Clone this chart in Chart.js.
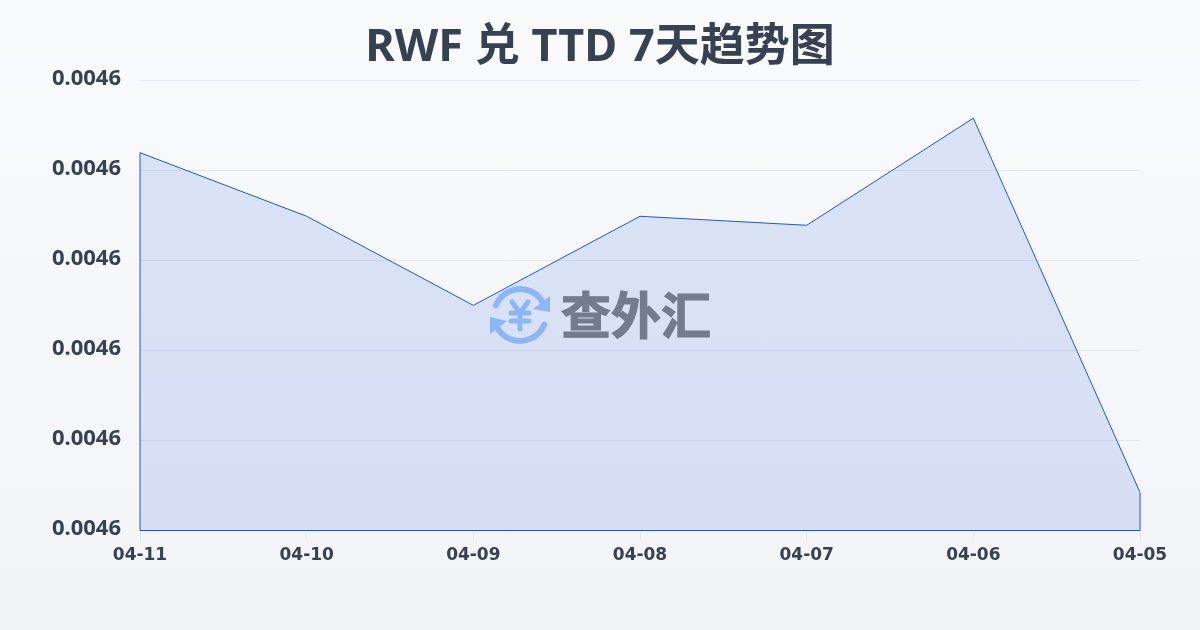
<!DOCTYPE html>
<html><head><meta charset="utf-8">
<style>html,body{margin:0;padding:0;background:#f8fafc}
#w{width:1200px;height:630px;background:linear-gradient(180deg,#f8fafc 0%,#f2f4f7 100%)}</style>
<script src="https://cdn.jsdelivr.net/npm/chart.js@4/dist/chart.umd.min.js"></script>
</head><body><div id="w"><canvas id="c" width="1200" height="630"></canvas></div>
<script>
const titleText = 'RWF 兑 TTD 7天趋势图';
const categories = ['04-11','04-10','04-09','04-08','04-07','04-06','04-05'];
const rates = [0.00462195,0.00461489,0.004605,0.00461489,0.00461389,0.00462578,0.00458422];
const yMin = 0.00458, yMax = 0.00463, yStep = 0.00001;
const watermarkText = '查外汇';
const FONT = '"Noto Sans","Noto Sans CJK SC",sans-serif';
const LINE = '#2457c5';

const outline = {
  id:'outline',
  afterDatasetsDraw(ch){
    const {ctx,scales:{x,y}} = ch;
    const x0=x.getPixelForValue(0), x1=x.getPixelForValue(categories.length-1);
    const yb=y.getPixelForValue(yMin);
    ctx.save();ctx.strokeStyle=LINE;ctx.lineWidth=1;ctx.beginPath();
    ctx.moveTo(x0,y.getPixelForValue(rates[0]));ctx.lineTo(x0,yb);ctx.lineTo(x1,yb);
    ctx.lineTo(x1,y.getPixelForValue(rates[rates.length-1]));ctx.stroke();ctx.restore();
  }
};
const watermark = {
  id:'watermark',
  afterDraw(ch){
    const c=ch.ctx, cx=520, cy=315, r=26;
    c.save();
    c.strokeStyle='#8db6f7';c.fillStyle='#8db6f7';c.lineWidth=6;c.lineCap='round';
    c.beginPath();c.arc(cx,cy,r,Math.PI*1.12,Math.PI*1.83);c.stroke();
    c.beginPath();c.arc(cx,cy,r,Math.PI*0.12,Math.PI*0.83);c.stroke();
    c.beginPath();c.moveTo(550,296);c.lineTo(550,312);c.lineTo(533,309);c.closePath();c.fill();
    c.beginPath();c.moveTo(490,334);c.lineTo(490,317);c.lineTo(507,321);c.closePath();c.fill();
    c.lineWidth=5;c.lineCap='round';c.beginPath();
    c.moveTo(512,302);c.lineTo(520,313);c.lineTo(528,302);
    c.moveTo(520,313);c.lineTo(520,329);
    c.moveTo(511,313);c.lineTo(529,313);c.moveTo(511,321);c.lineTo(529,321);c.stroke();
    c.fillStyle='#737c8e';c.strokeStyle='#737c8e';c.lineWidth=1.2;c.lineCap='butt';c.font='bold 50px "Noto Sans CJK SC",sans-serif';c.textAlign='left';c.textBaseline='middle';
    c.fillText(watermarkText,561,315);c.strokeText(watermarkText,561,315);
    c.restore();
  }
};
new Chart(document.getElementById('c'),{
  type:'line',
  data:{labels:categories,datasets:[{data:rates,borderColor:LINE,borderWidth:1,backgroundColor:'rgba(45,95,220,0.14)',fill:'start',pointRadius:0,tension:0}]},
  plugins:[outline,watermark],
  options:{
    responsive:false,animation:false,
    layout:{padding:0},
    plugins:{legend:{display:false},tooltip:{enabled:false},
      title:{display:true,text:titleText,color:'#374151',font:{family:FONT,size:45,weight:'bold',lineHeight:1.2},padding:{top:21.4,bottom:4.8}}},
    scales:{
      x:{offset:false,grid:{color:'rgba(180,190,200,0.25)',tickLength:10,drawOnChartArea:false},border:{display:false},
        afterFit(s){s.height=99.5},
        ticks:{color:'#374151',font:{family:'"DejaVu Sans",sans-serif',size:17,weight:'bold'},maxRotation:0,autoSkip:false,padding:5}},
      y:{min:yMin,max:yMax,grid:{color:'rgba(150,165,185,0.2)',drawTicks:false},border:{display:false},
        afterFit(s){s.width=140},
        afterBuildTicks(s){s.ticks=[0,1,2,3,4,5].map(i=>({value:yMin+i*yStep}))},
        ticks:{color:'#374151',font:{family:FONT,size:22,weight:'bold'},padding:19,labelOffset:-1.5,callback:v=>v.toFixed(4)}},
      pad:{position:'right',display:true,grid:{display:false},border:{display:false},ticks:{display:false},afterFit(s){s.width=60}}
    }
  }
});
</script></body></html>
